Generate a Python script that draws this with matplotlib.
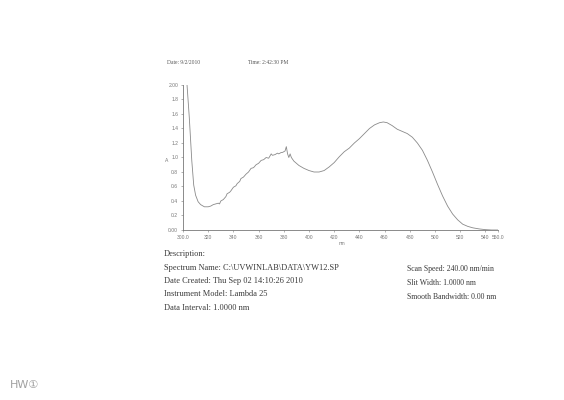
import matplotlib
matplotlib.use("Agg")
import matplotlib.pyplot as plt

# absorbance spectrum
wavelength = [303, 305, 307, 308.5, 310, 312, 314, 317, 320, 322, 324, 326, 328, 329,
              330, 332, 334, 335, 337, 338, 340, 342, 343, 345, 346, 348, 350, 352,
              354, 356, 358, 360, 362, 364, 366, 368, 370, 371, 373, 375, 376, 378,
              379, 381, 382, 383, 384, 385, 386, 388, 392, 396, 400, 404, 408, 412,
              416, 420, 424, 428, 432, 436, 440, 444, 448, 452, 456, 459, 462, 466,
              470, 474, 478, 482, 486, 490, 494, 498, 502, 506, 510, 514, 518, 522,
              526, 530, 535, 540, 545, 550]
absorbance = [2.05, 1.55, 0.95, 0.62, 0.48, 0.39, 0.35, 0.32, 0.32, 0.33, 0.35, 0.36, 0.37, 0.36,
              0.40, 0.42, 0.46, 0.50, 0.52, 0.54, 0.59, 0.61, 0.64, 0.67, 0.71, 0.73, 0.77, 0.80,
              0.85, 0.86, 0.90, 0.92, 0.96, 0.97, 1.00, 0.99, 1.05, 1.03, 1.04, 1.06, 1.05, 1.07,
              1.07, 1.09, 1.15, 1.05, 1.00, 1.05, 1.00, 0.95, 0.89, 0.85, 0.82, 0.80, 0.80, 0.82,
              0.87, 0.93, 1.01, 1.08, 1.13, 1.20, 1.26, 1.33, 1.40, 1.45, 1.48, 1.49, 1.48, 1.44,
              1.39, 1.36, 1.33, 1.28, 1.20, 1.10, 0.96, 0.80, 0.63, 0.47, 0.33, 0.22, 0.14, 0.08,
              0.05, 0.03, 0.015, 0.005, 0.0, 0.0]

x_ticks = [300, 320, 340, 360, 380, 400, 420, 440, 460, 480, 500, 520, 540, 550]
x_labels = ["300.0", "320", "340", "360", "380", "400", "420", "440", "460", "480",
            "500", "520", "540", "550.0"]
y_ticks = [0.0, 0.2, 0.4, 0.6, 0.8, 1.0, 1.2, 1.4, 1.6, 1.8, 2.0]
y_labels = ["0.00", "0.2", "0.4", "0.6", "0.8", "1.0", "1.2", "1.4", "1.6", "1.8", "2.00"]

info_left = ["Description:",
             "Spectrum Name: C:\\UVWINLAB\\DATA\\YW12.SP",
             "Date Created: Thu Sep 02 14:10:26 2010",
             "Instrument Model: Lambda 25",
             "Data Interval: 1.0000 nm"]
info_right = ["Scan Speed: 240.00 nm/min",
              "Slit Width: 1.0000 nm",
              "Smooth Bandwidth: 0.00 nm"]

W, H = 564, 400
fig = plt.figure(figsize=(W / 100, H / 100), dpi=100)
ax = fig.add_axes([183 / W, 1 - 230 / H, (498 - 183) / W, (230 - 85) / H])

ink = "#777777"
ax.plot(wavelength, absorbance, color="#8a8a8a", linewidth=0.6, clip_on=True)
ax.set_xlim(300, 550)
ax.set_ylim(0, 2.0)
for s in ["top", "right"]:
    ax.spines[s].set_visible(False)
for s in ["left", "bottom"]:
    ax.spines[s].set_color(ink)
    ax.spines[s].set_linewidth(0.6)
ax.set_xticks(x_ticks)
ax.set_xticklabels(x_labels)
ax.set_yticks(y_ticks)
ax.set_yticklabels(y_labels)
ax.tick_params(colors=ink, labelsize=3.6, length=1.5, width=0.4, pad=2)
for t in ax.get_xticklabels() + ax.get_yticklabels():
    t.set_family("Liberation Sans")

serif = "Liberation Serif"
fig.text(167 / W, 1 - 160 / H, "A", fontsize=3.6, color=ink, family="Liberation Sans",
         ha="center", va="center")
fig.text(342 / W, 1 - 243 / H, "nm", fontsize=3.4, color=ink, family="Liberation Sans",
         ha="center", va="center")

fig.text(167 / W, 1 - 63 / H, "Date: 9/2/2010", fontsize=4, color="#555555", family=serif,
         va="center")
fig.text(248 / W, 1 - 63 / H, "Time: 2:42:30 PM", fontsize=4, color="#555555", family=serif,
         va="center")

left_y = [254, 268, 281, 294, 308]
for txt, yy in zip(info_left, left_y):
    fig.text(164 / W, 1 - yy / H, txt, fontsize=6, color="#3a3a3a", family=serif, va="center")
right_y = [269, 283, 297]
for txt, yy in zip(info_right, right_y):
    fig.text(407 / W, 1 - yy / H, txt, fontsize=5.6, color="#3a3a3a", family=serif, va="center")

# handwritten note in the corner of the scan
fig.text(10 / W, 1 - 385 / H, "HW\u2460", fontsize=8, color="#a0a0a0",
         family=["DejaVu Sans", "Noto Sans CJK SC"], va="center")

fig.savefig("out.png", dpi=100)
